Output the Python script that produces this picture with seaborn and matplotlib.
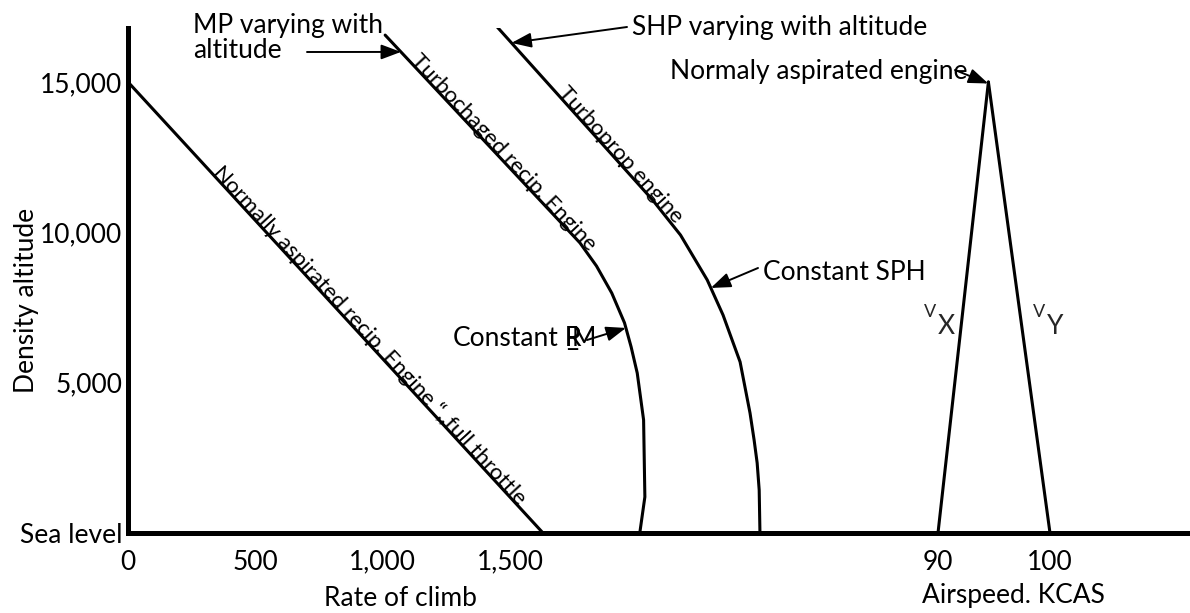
import numpy as np
import seaborn as sns
import matplotlib.pyplot as plt

alt_ticks = [0, 5000, 10000, 15000]
alt_labels = ['Sea level', '5,000', '10,000', '15,000']
roc_ticks = [0, 500, 1000, 1500]
roc_labels = ['0', '500', '1,000', '1,500']
kcas_ticks = [90, 100]
kcas_labels = ['90', '100']

# motor de aspiración normal (recta)
na_roc = [0, 1630]
na_alt = [15000, 0]
# turbo alimentado
turbo_roc = [1010, 1775, 1840, 1900, 1950, 1976, 2000, 2025, 2030, 2010]
turbo_alt = [16560, 9650, 8880, 7980, 6990, 6190, 5320, 3760, 1200, 0]
# turbohélice
prop_roc = [1450, 2060, 2170, 2275, 2337, 2404, 2443, 2459, 2471, 2479, 2482]
prop_alt = [16830, 11080, 9910, 8415, 7250, 5690, 3990, 3095, 2330, 1430, 0]
# Vx / Vy
vx_kcas = [90, 94.5]
vx_alt = [0, 15000]
vy_kcas = [100, 94.5]
vy_alt = [0, 15000]

# 2. ESTILO
sns.set_theme(style='white')
plt.rcParams['font.family'] = ['Lato', 'DejaVu Sans']
FS = 19
W, H = 1190, 613


def fig_xy(px, py):
    return (px / W, 1 - py / H)


fig = plt.figure(figsize=(W / 100, H / 100), dpi=100)
rect = [128 / W, 80 / H, 1062 / W, 505 / H]
ax = fig.add_axes(rect)
ax2 = fig.add_axes(rect)
ax2.patch.set_visible(False)

line_kw = dict(color='black', linewidth=2.2, sort=False, estimator=None)
sns.lineplot(x=na_roc, y=na_alt, ax=ax, **line_kw)
sns.lineplot(x=turbo_roc, y=turbo_alt, ax=ax, **line_kw)
sns.lineplot(x=prop_roc, y=prop_alt, ax=ax, **line_kw)
sns.lineplot(x=vx_kcas, y=vx_alt, ax=ax2, **line_kw)
sns.lineplot(x=vy_kcas, y=vy_alt, ax=ax2, **line_kw)

ax.set_xlim(0, 4171)
ax.set_ylim(0, 16796)
ax2.set_xlim(17.68, 112.5)
ax2.set_ylim(0, 16796)

sns.despine(ax=ax)
for s in ['left', 'bottom']:
    ax.spines[s].set_linewidth(3.6)
    ax.spines[s].set_color('black')
for s in ax2.spines.values():
    s.set_visible(False)

ax.set_xticks(roc_ticks, roc_labels)
ax.set_yticks(alt_ticks, alt_labels)
ax2.set_xticks(kcas_ticks, kcas_labels)
ax2.set_yticks([])
for a in (ax, ax2):
    a.tick_params(axis='both', length=0, labelsize=FS, colors='black')
    a.tick_params(axis='x', pad=12)
    a.grid(False)
ax.tick_params(axis='y', pad=4)

ax.set_xlabel('Rate of climb', fontsize=FS, color='black')
ax.xaxis.set_label_coords((400 - 128) / 1062, (533 - 598) / 505)
ax.xaxis.label.set_va('center')
ax.set_ylabel('Density altitude', fontsize=FS, color='black')
ax.yaxis.set_label_coords((27 - 128) / 1062, (533 - 300) / 505)
ax.yaxis.label.set_va('center')
ax2.set_xlabel('Airspeed. KCAS', fontsize=FS, color='black')
ax2.xaxis.set_label_coords((1013 - 128) / 1062, (533 - 596) / 505)
ax2.xaxis.label.set_va('center')

# 3. TEXTOS SOBRE LAS CURVAS
rot_kw = dict(rotation_mode='anchor', ha='left', va='baseline', fontsize=16, color='black')
x0 = 330
ax.text(x0, np.interp(x0, na_roc, na_alt),
        'Normally aspirated recip. Engine \u201c,,full throttle', rotation=-47.4, **rot_kw)
x1 = 1108
ax.text(x1, np.interp(x1, turbo_roc[:2], turbo_alt[:2]), 'Turbochaged recip. Engine',
        rotation=-46.9, **rot_kw)
x2 = 1685
ax.text(x2, np.interp(x2, prop_roc[:2], prop_alt[:2]), 'Turboprop engine',
        rotation=-48, **rot_kw)

# 4. ANOTACIONES CON FLECHA
arrow = dict(arrowstyle='-|>,head_length=0.8,head_width=0.3', color='black', lw=1.4,
             shrinkA=0, shrinkB=0, mutation_scale=15)


def on_curve(alt, roc_list, alt_list):
    return (np.interp(alt, alt_list[::-1], roc_list[::-1]), alt)


txt = dict(fontsize=FS, color='black', va='center', ha='left')
fig.text(*fig_xy(193, 25), 'MP varying with', **txt)
fig.text(*fig_xy(193, 50), 'altitude', **txt)
ax.annotate('', xy=on_curve(16000, turbo_roc, turbo_alt), xytext=fig_xy(307, 52),
            textcoords='figure fraction', arrowprops=arrow)

fig.text(*fig_xy(632, 28), 'SHP varying with altitude', **txt)
ax.annotate('', xy=on_curve(16300, prop_roc, prop_alt), xytext=fig_xy(627, 27),
            textcoords='figure fraction', arrowprops=arrow)

fig.text(*fig_xy(670, 72), 'Normaly aspirated engine', **txt)
apex_alt = 14950
ax2.annotate('', xy=(np.interp(apex_alt, vx_alt, vx_kcas), apex_alt), xytext=fig_xy(955, 70),
             textcoords='figure fraction', arrowprops=arrow)

fig.text(*fig_xy(763, 272), 'Constant SPH', **txt)
ax.annotate('', xy=on_curve(8150, prop_roc, prop_alt), xytext=fig_xy(758, 268),
            textcoords='figure fraction', arrowprops=arrow)

base = dict(fontsize=FS, color='black', va='baseline', ha='left')
fig.text(*fig_xy(453, 346), 'Constant', **base)
fig.text(*fig_xy(565, 346), 'R', **base)
fig.text(*fig_xy(565, 346), 'P', **base)
fig.text(*fig_xy(566, 346), '_', **base)
fig.text(*fig_xy(572, 346), 'M', **base)
ax.annotate('', xy=on_curve(6820, turbo_roc, turbo_alt), xytext=fig_xy(587, 340),
            textcoords='figure fraction', arrowprops=arrow)

# Vx / Vy
fig.text(*fig_xy(930, 312), 'V', fontsize=13, ha='center', va='center')
fig.text(*fig_xy(946, 327), 'X', fontsize=FS, ha='center', va='center')
fig.text(*fig_xy(1039, 312), 'V', fontsize=13, ha='center', va='center')
fig.text(*fig_xy(1055, 327), 'Y', fontsize=FS, ha='center', va='center')

fig.savefig('out.png', dpi=100)
